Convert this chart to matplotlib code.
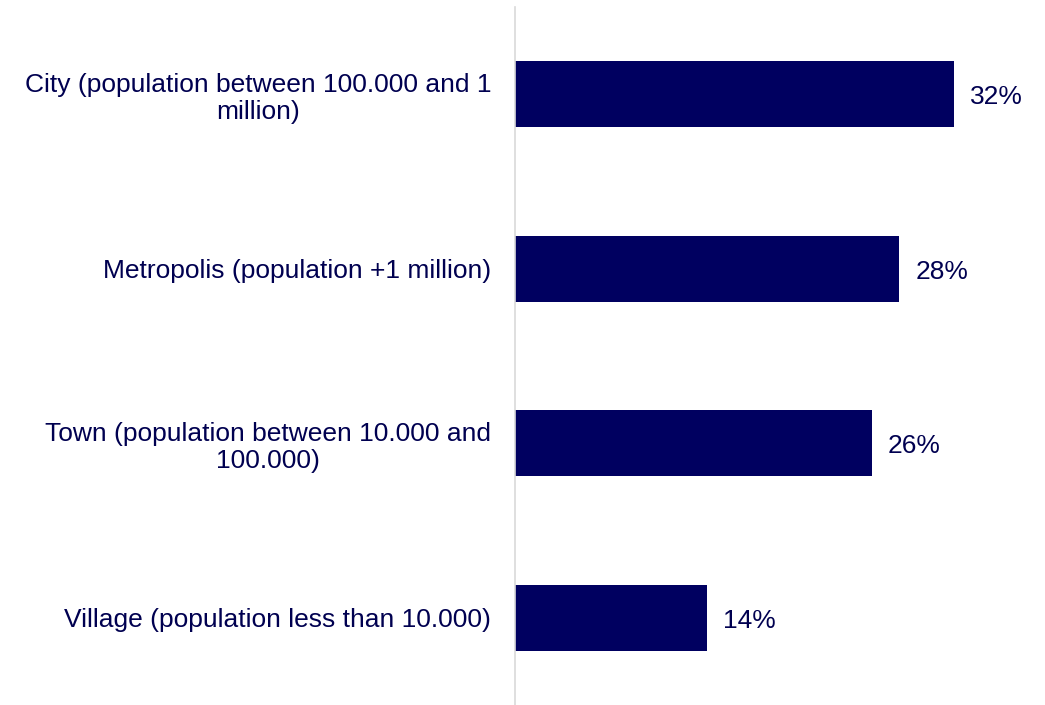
import matplotlib.pyplot as plt

plt.rcParams['font.family'] = ['Liberation Sans', 'DejaVu Sans']

categories = [
    "City (population between 100.000 and 1\nmillion)",
    "Metropolis (population +1 million)",
    "Town (population between 10.000 and\n100.000)",
    "Village (population less than 10.000)",
]
shares = [32, 28, 26, 14]

navy = "#000060"
text_col = "#000050"

fig = plt.figure(figsize=(10.45, 7.05), dpi=100)
ax = fig.add_axes([0.4928, 0.0, 0.495, 0.99])

pos = list(range(len(categories)))
ax.barh(pos, shares, height=0.38, color=navy)
ax.set_ylim(len(categories) - 0.5, -0.5)
ax.set_xlim(0, 37.7)

# value labels just past the end of each bar
for y, v in zip(pos, shares):
    ax.annotate(f"{v}%", xy=(v, y), xytext=(11.5, -2), textcoords="offset points",
                va="center", ha="left", fontsize=19, color=text_col)

ax.set_yticks(pos)
ax.set_yticklabels(categories, fontsize=19, color=text_col, ma="center",
                   linespacing=1.18)
ax.tick_params(axis="y", length=0, pad=17)
ax.set_xticks([])

for s in ["top", "right", "bottom"]:
    ax.spines[s].set_visible(False)
ax.spines["left"].set_color("#d9d9d9")
ax.spines["left"].set_linewidth(1.2)

fig.savefig("out.png", dpi=100)
